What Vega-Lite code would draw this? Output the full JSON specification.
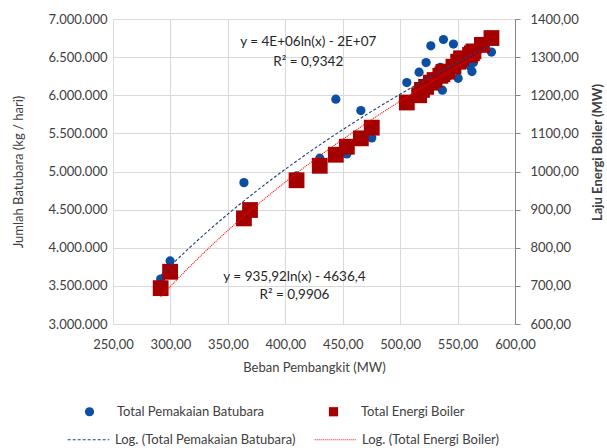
{
  "$schema": "https://vega.github.io/schema/vega-lite/v6.json",
  "width": 402,
  "height": 305,
  "autosize": "none",
  "padding": {"left": 113, "top": 19, "right": 92, "bottom": 124},
  "background": "white",
  "config": {
    "locale": {"number": {"decimal": ",", "thousands": ".", "grouping": [3], "currency": ["", ""]}},
    "font": "Lato",
    "view": {"stroke": null},
    "axis": {"labelFont": "Lato", "labelFontSize": 13, "labelColor": "#404040", "titleFont": "Lato", "titleFontSize": 13, "titleColor": "#404040", "titleFontWeight": "normal", "gridColor": "#D9D9D9", "gridWidth": 1, "labelFlush": false},
    "legend": {"labelFont": "Lato", "labelFontSize": 13, "labelColor": "#404040", "labelLimit": 300, "padding": 0}
  },
  "datasets": {
    "pts": [
      {"x": 291.5, "series": "Total Pemakaian Batubara", "trend": "Log. (Total Pemakaian Batubara)", "value": 3590000},
      {"x": 299.7, "series": "Total Pemakaian Batubara", "trend": "Log. (Total Pemakaian Batubara)", "value": 3827000},
      {"x": 364.0, "series": "Total Pemakaian Batubara", "trend": "Log. (Total Pemakaian Batubara)", "value": 4854000},
      {"x": 369.3, "series": "Total Pemakaian Batubara", "trend": "Log. (Total Pemakaian Batubara)", "value": 4520000},
      {"x": 409.8, "series": "Total Pemakaian Batubara", "trend": "Log. (Total Pemakaian Batubara)", "value": 4942000},
      {"x": 430.0, "series": "Total Pemakaian Batubara", "trend": "Log. (Total Pemakaian Batubara)", "value": 5175000},
      {"x": 444.0, "series": "Total Pemakaian Batubara", "trend": "Log. (Total Pemakaian Batubara)", "value": 5949000},
      {"x": 453.6, "series": "Total Pemakaian Batubara", "trend": "Log. (Total Pemakaian Batubara)", "value": 5231000},
      {"x": 465.8, "series": "Total Pemakaian Batubara", "trend": "Log. (Total Pemakaian Batubara)", "value": 5799000},
      {"x": 475.3, "series": "Total Pemakaian Batubara", "trend": "Log. (Total Pemakaian Batubara)", "value": 5441000},
      {"x": 505.8, "series": "Total Pemakaian Batubara", "trend": "Log. (Total Pemakaian Batubara)", "value": 6167000},
      {"x": 516.5, "series": "Total Pemakaian Batubara", "trend": "Log. (Total Pemakaian Batubara)", "value": 6303000},
      {"x": 519.0, "series": "Total Pemakaian Batubara", "trend": "Log. (Total Pemakaian Batubara)", "value": 6120000},
      {"x": 522.6, "series": "Total Pemakaian Batubara", "trend": "Log. (Total Pemakaian Batubara)", "value": 6429000},
      {"x": 526.7, "series": "Total Pemakaian Batubara", "trend": "Log. (Total Pemakaian Batubara)", "value": 6648000},
      {"x": 530.0, "series": "Total Pemakaian Batubara", "trend": "Log. (Total Pemakaian Batubara)", "value": 6200000},
      {"x": 535.0, "series": "Total Pemakaian Batubara", "trend": "Log. (Total Pemakaian Batubara)", "value": 6366000},
      {"x": 536.8, "series": "Total Pemakaian Batubara", "trend": "Log. (Total Pemakaian Batubara)", "value": 6067000},
      {"x": 537.7, "series": "Total Pemakaian Batubara", "trend": "Log. (Total Pemakaian Batubara)", "value": 6731000},
      {"x": 541.0, "series": "Total Pemakaian Batubara", "trend": "Log. (Total Pemakaian Batubara)", "value": 6250000},
      {"x": 546.4, "series": "Total Pemakaian Batubara", "trend": "Log. (Total Pemakaian Batubara)", "value": 6671000},
      {"x": 550.5, "series": "Total Pemakaian Batubara", "trend": "Log. (Total Pemakaian Batubara)", "value": 6222000},
      {"x": 553.0, "series": "Total Pemakaian Batubara", "trend": "Log. (Total Pemakaian Batubara)", "value": 6450000},
      {"x": 560.9, "series": "Total Pemakaian Batubara", "trend": "Log. (Total Pemakaian Batubara)", "value": 6380000},
      {"x": 562.5, "series": "Total Pemakaian Batubara", "trend": "Log. (Total Pemakaian Batubara)", "value": 6311000},
      {"x": 563.8, "series": "Total Pemakaian Batubara", "trend": "Log. (Total Pemakaian Batubara)", "value": 6429000},
      {"x": 571.2, "series": "Total Pemakaian Batubara", "trend": "Log. (Total Pemakaian Batubara)", "value": 6707000},
      {"x": 579.5, "series": "Total Pemakaian Batubara", "trend": "Log. (Total Pemakaian Batubara)", "value": 6566000},
      {"x": 291.5, "series": "Total Energi Boiler", "trend": "Log. (Total Energi Boiler)", "value": 694},
      {"x": 299.7, "series": "Total Energi Boiler", "trend": "Log. (Total Energi Boiler)", "value": 737},
      {"x": 364.0, "series": "Total Energi Boiler", "trend": "Log. (Total Energi Boiler)", "value": 877},
      {"x": 369.3, "series": "Total Energi Boiler", "trend": "Log. (Total Energi Boiler)", "value": 899},
      {"x": 409.8, "series": "Total Energi Boiler", "trend": "Log. (Total Energi Boiler)", "value": 977},
      {"x": 430.0, "series": "Total Energi Boiler", "trend": "Log. (Total Energi Boiler)", "value": 1015},
      {"x": 444.0, "series": "Total Energi Boiler", "trend": "Log. (Total Energi Boiler)", "value": 1044},
      {"x": 453.6, "series": "Total Energi Boiler", "trend": "Log. (Total Energi Boiler)", "value": 1065},
      {"x": 465.8, "series": "Total Energi Boiler", "trend": "Log. (Total Energi Boiler)", "value": 1087},
      {"x": 475.3, "series": "Total Energi Boiler", "trend": "Log. (Total Energi Boiler)", "value": 1115},
      {"x": 505.8, "series": "Total Energi Boiler", "trend": "Log. (Total Energi Boiler)", "value": 1181},
      {"x": 516.5, "series": "Total Energi Boiler", "trend": "Log. (Total Energi Boiler)", "value": 1200},
      {"x": 519.0, "series": "Total Energi Boiler", "trend": "Log. (Total Energi Boiler)", "value": 1214},
      {"x": 522.6, "series": "Total Energi Boiler", "trend": "Log. (Total Energi Boiler)", "value": 1222},
      {"x": 526.7, "series": "Total Energi Boiler", "trend": "Log. (Total Energi Boiler)", "value": 1233},
      {"x": 530.0, "series": "Total Energi Boiler", "trend": "Log. (Total Energi Boiler)", "value": 1240},
      {"x": 535.0, "series": "Total Energi Boiler", "trend": "Log. (Total Energi Boiler)", "value": 1251},
      {"x": 536.8, "series": "Total Energi Boiler", "trend": "Log. (Total Energi Boiler)", "value": 1255},
      {"x": 537.7, "series": "Total Energi Boiler", "trend": "Log. (Total Energi Boiler)", "value": 1261},
      {"x": 541.0, "series": "Total Energi Boiler", "trend": "Log. (Total Energi Boiler)", "value": 1262},
      {"x": 546.4, "series": "Total Energi Boiler", "trend": "Log. (Total Energi Boiler)", "value": 1275},
      {"x": 550.5, "series": "Total Energi Boiler", "trend": "Log. (Total Energi Boiler)", "value": 1288},
      {"x": 553.0, "series": "Total Energi Boiler", "trend": "Log. (Total Energi Boiler)", "value": 1297},
      {"x": 560.9, "series": "Total Energi Boiler", "trend": "Log. (Total Energi Boiler)", "value": 1306},
      {"x": 562.5, "series": "Total Energi Boiler", "trend": "Log. (Total Energi Boiler)", "value": 1310},
      {"x": 563.8, "series": "Total Energi Boiler", "trend": "Log. (Total Energi Boiler)", "value": 1315},
      {"x": 571.2, "series": "Total Energi Boiler", "trend": "Log. (Total Energi Boiler)", "value": 1332},
      {"x": 579.5, "series": "Total Energi Boiler", "trend": "Log. (Total Energi Boiler)", "value": 1350}
    ],
    "notes": [
      {"x": 420, "value": 6700000, "t": "y = 4E+06ln(x) - 2E+07"},
      {"x": 420, "value": 6442000, "t": "R² = 0,9342"},
      {"x": 408, "value": 3621000, "t": "y = 935,92ln(x) - 4636,4"},
      {"x": 408, "value": 3381000, "t": "R² = 0,9906"}
    ]
  },
  "layer": [
    {
      "data": {"name": "pts"},
      "transform": [{"filter": {"field": "series", "equal": "Total Pemakaian Batubara"}}],
      "mark": {"type": "point", "filled": true, "opacity": 1, "size": 85},
      "encoding": {
        "x": {"field": "x", "type": "quantitative", "scale": {"domain": [250, 600], "nice": false, "zero": false},
          "axis": {"tickCount": 7, "format": ".2f", "title": "Beban Pembangkit (MW)", "domain": false, "ticks": false, "labelPadding": 14, "titlePadding": 10, "grid": true, "labelFlush": false, "labelOverlap": "parity", "labelSeparation": -40, "labelBound": false}},
        "y": {"field": "value", "type": "quantitative", "scale": {"domain": [3000000, 7000000], "nice": false, "zero": false},
          "axis": {"orient": "left", "values": [3000000, 3500000, 4000000, 4500000, 5000000, 5500000, 6000000, 6500000, 7000000], "format": ",.0f", "title": "Jumlah Batubara (kg / hari)", "domain": false, "ticks": false, "labelPadding": 6, "titlePadding": 23, "grid": true, "labelFlush": false, "labelOverlap": false}},
        "color": {"field": "series", "type": "nominal", "scale": {"domain": ["Total Pemakaian Batubara", "Total Energi Boiler"], "range": ["#0B4EA2", "#A50000"]},
          "legend": {"orient": "none", "legendX": -30, "legendY": 386, "direction": "horizontal", "title": null, "labelOffset": 21, "columnPadding": 63, "symbolSize": 85}},
        "shape": {"field": "series", "type": "nominal", "scale": {"domain": ["Total Pemakaian Batubara", "Total Energi Boiler"], "range": ["circle", "square"]}}
      }
    },
    {
      "data": {"name": "pts"},
      "transform": [{"filter": {"field": "series", "equal": "Total Energi Boiler"}}],
      "mark": {"type": "point", "filled": true, "opacity": 1, "size": 250},
      "encoding": {
        "x": {"field": "x", "type": "quantitative"},
        "y": {"field": "value", "type": "quantitative", "scale": {"domain": [600, 1400], "nice": false, "zero": false},
          "axis": {"orient": "right", "values": [600, 700, 800, 900, 1000, 1100, 1200, 1300, 1400], "format": ".2f", "title": "Laju Energi Boiler (MW)", "titleFontWeight": "bold", "titleAngle": 270, "titleX": 82, "titleY": 133, "titleBaseline": "middle", "titleAlign": "center", "domain": true, "domainColor": "#868686", "ticks": true, "tickColor": "#868686", "tickSize": 5, "labelPadding": 10, "grid": false, "labelFlush": false, "labelOverlap": false}},
        "color": {"field": "series", "type": "nominal"},
        "shape": {"field": "series", "type": "nominal"}
      }
    },
    {
      "data": {"name": "pts"},
      "transform": [
        {"filter": {"field": "series", "equal": "Total Pemakaian Batubara"}},
        {"regression": "value", "on": "x", "method": "log", "groupby": ["trend"]}
      ],
      "mark": {"type": "line", "strokeWidth": 1.1},
      "encoding": {
        "x": {"field": "x", "type": "quantitative"},
        "y": {"field": "value", "type": "quantitative", "scale": {"domain": [3000000, 7000000], "nice": false, "zero": false}, "axis": null},
        "stroke": {"field": "trend", "type": "nominal", "scale": {"domain": ["Log. (Total Pemakaian Batubara)", "Log. (Total Energi Boiler)"], "range": ["#22407E", "#FF0000"]},
          "legend": {"orient": "none", "legendX": -46, "legendY": 399, "direction": "horizontal", "title": null, "symbolType": "stroke", "symbolSize": 1730, "symbolStrokeWidth": 1, "labelOffset": 5, "columnPadding": 16}},
        "strokeDash": {"field": "trend", "type": "nominal", "scale": {"domain": ["Log. (Total Pemakaian Batubara)", "Log. (Total Energi Boiler)"], "range": [[3, 2], [1, 1]]}}
      }
    },
    {
      "data": {"name": "pts"},
      "transform": [
        {"filter": {"field": "series", "equal": "Total Energi Boiler"}},
        {"regression": "value", "on": "x", "method": "log", "groupby": ["trend"]}
      ],
      "mark": {"type": "line", "strokeWidth": 1.1},
      "encoding": {
        "x": {"field": "x", "type": "quantitative"},
        "y": {"field": "value", "type": "quantitative", "scale": {"domain": [600, 1400], "nice": false, "zero": false}, "axis": null},
        "stroke": {"field": "trend", "type": "nominal"},
        "strokeDash": {"field": "trend", "type": "nominal"}
      }
    },
    {
      "data": {"name": "notes"},
      "mark": {"type": "text", "fontSize": 13.5, "font": "Lato", "color": "#262626", "align": "center", "baseline": "middle"},
      "encoding": {
        "x": {"field": "x", "type": "quantitative"},
        "y": {"field": "value", "type": "quantitative", "scale": {"domain": [3000000, 7000000], "nice": false, "zero": false}, "axis": null},
        "text": {"field": "t", "type": "nominal"}
      }
    }
  ],
  "resolve": {"scale": {"y": "independent"}}
}
